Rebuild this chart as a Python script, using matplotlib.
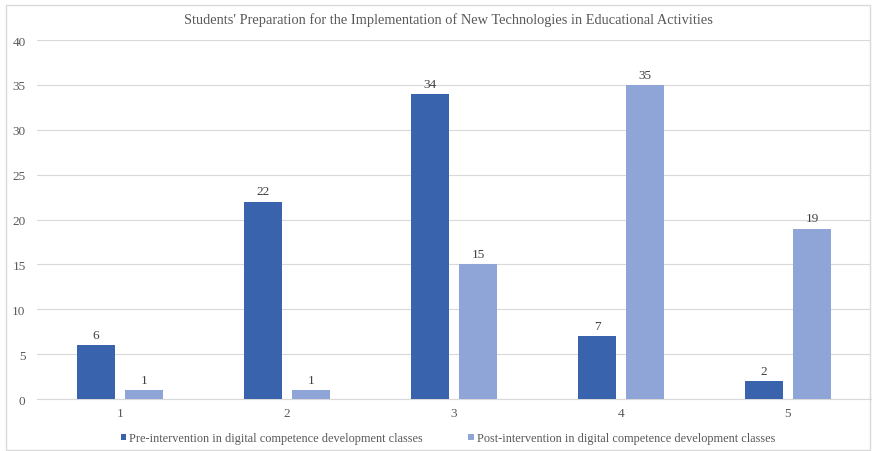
import matplotlib
matplotlib.use("Agg")
import matplotlib.pyplot as plt
from matplotlib.patches import Rectangle
import numpy as np

categories = ["1", "2", "3", "4", "5"]
pre_values = [6, 22, 34, 7, 2]
post_values = [1, 1, 15, 35, 19]
series_names = [
    "Pre-intervention in digital competence development classes",
    "Post-intervention in digital competence development classes",
]
title = "Students' Preparation for the Implementation of New Technologies in Educational Activities"
y_ticks = [0, 5, 10, 15, 20, 25, 30, 35, 40]

plt.rcParams["font.family"] = ["Liberation Serif", "DejaVu Serif"]
text_color = "#595959"
pre_color = "#3A63AE"
post_color = "#8FA5D7"

fig = plt.figure(figsize=(8.74, 4.52), dpi=100)
fig.patches.append(Rectangle((6 / 874, 1 / 452), 864 / 874, 445 / 452,
                             transform=fig.transFigure, fill=False,
                             edgecolor="#d9d9d9", linewidth=1.0))

ax = fig.add_axes([0.042, 0.115, 0.955, 0.794])
x = np.arange(len(categories))
width = 0.227
offset = 0.144
b1 = ax.bar(x - offset, pre_values, width, color=pre_color, label=series_names[0], zorder=3)
b2 = ax.bar(x + offset, post_values, width, color=post_color, label=series_names[1], zorder=3)

for bars, vals in ((b1, pre_values), (b2, post_values)):
    for rect, v in zip(bars, vals):
        ax.annotate(str(v), (rect.get_x() + rect.get_width() / 2, v),
                    xytext=(0, 3), textcoords="offset points",
                    ha="center", va="bottom", fontsize=9.5, color="#404040")

ax.set_xlim(-0.5, len(categories) - 0.5)
ax.set_ylim(0, 40)
ax.set_yticks(y_ticks)
ax.set_xticks(x)
ax.set_xticklabels(categories)
ax.yaxis.grid(True, color="#d9d9d9", linewidth=0.8, zorder=0)
for s in ("top", "right", "left"):
    ax.spines[s].set_visible(False)
ax.spines["bottom"].set_color("#d9d9d9")
ax.tick_params(axis="both", length=0, colors=text_color, labelsize=9.5)
ax.tick_params(axis="y", pad=8)
ax.tick_params(axis="x", pad=6)

fig.text(0.513, 0.955, title, ha="center", va="center", fontsize=10.4, color=text_color)

leg = fig.legend(loc="center", bbox_to_anchor=(0.5126, 0.028), ncol=2, frameon=False,
                 fontsize=8.8, handlelength=0.45, handleheight=0.45, handletextpad=0.25,
                 columnspacing=3.7, labelcolor=text_color)

fig.savefig("out.png", dpi=100)
